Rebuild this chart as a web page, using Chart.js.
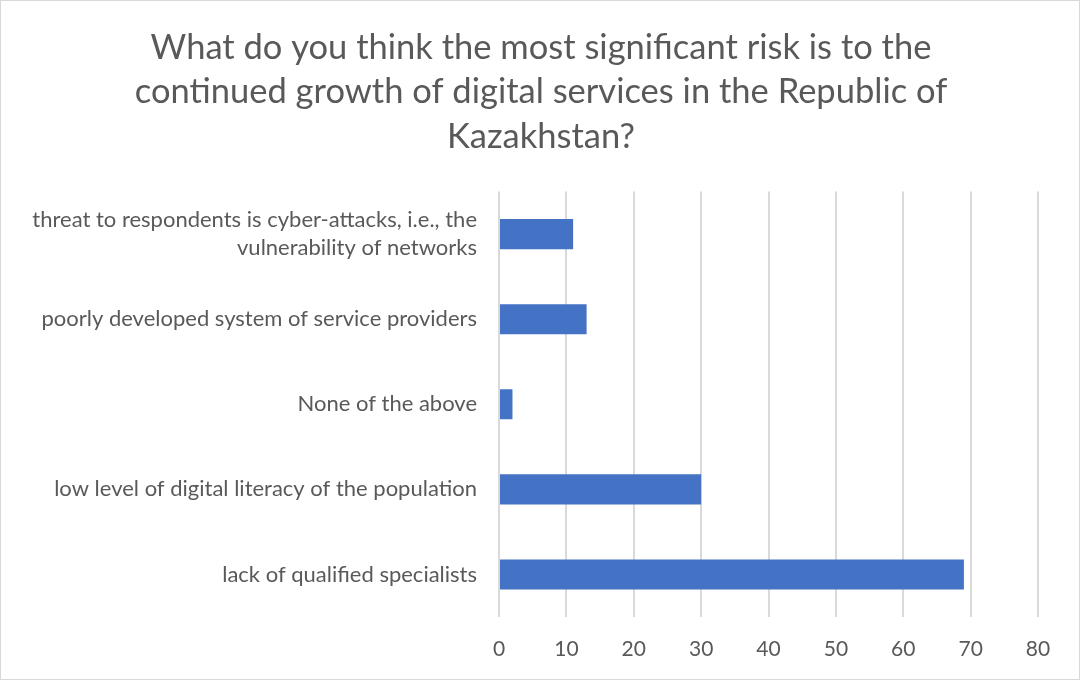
<!DOCTYPE html>
<html>
<head>
<meta charset="utf-8">
<script src="https://cdn.jsdelivr.net/npm/chart.js@4.4.0/dist/chart.umd.min.js"></script>
<style>
  body { margin: 0; background: #fff; }
  #wrap { width: 1080px; height: 680px; box-sizing: border-box; border: 1px solid #d9d9d9; }
</style>
</head>
<body>
<div id="wrap"><canvas id="riskChart" width="1078" height="678"></canvas></div>
<script>
// dados do gráfico
const titleLines = [
    "What do you think the most significant risk is to the",
    "continued growth of digital services in the Republic of",
    "Kazakhstan?"
];
const categories = [
    ["threat to respondents is cyber-attacks, i.e., the", "vulnerability of networks"],
    "poorly developed system of service providers",
    "None of the above",
    "low level of digital literacy of the population",
    "lack of qualified specialists"
];
const values = [11, 13, 2, 30, 69];
const xTicks = [0, 10, 20, 30, 40, 50, 60, 70, 80];

const textColor = '#595959';
const fontFamily = 'Lato, "Open Sans", sans-serif';

// centraliza o título na largura inteira do canvas (ignora o padding da direita)
const centerTitle = {
    id: 'centerTitle',
    afterLayout(chart) {
        const t = chart.titleBlock;
        if (t) {
            t.left = 0;
            t.right = chart.width + 2;
            t.width = t.right - t.left;
        }
    }
};

const ctx = document.getElementById('riskChart').getContext('2d');
const riskChart = new Chart(ctx, {
    type: 'bar',
    data: {
        labels: categories,
        datasets: [{
            data: values,
            backgroundColor: '#4472c4',
            borderWidth: 0,
            barPercentage: 0.7,
            categoryPercentage: 0.505
        }]
    },
    options: {
        indexAxis: 'y',
        responsive: false,
        animation: false,
        layout: { padding: { left: 0, right: 41, top: 0, bottom: 17 } },
        plugins: {
            legend: { display: false },
            tooltip: { enabled: false },
            title: {
                display: true,
                text: titleLines,
                color: textColor,
                font: { family: fontFamily, size: 34.5, weight: 'normal', lineHeight: 1.3 },
                padding: { top: 24, bottom: 32 }
            }
        },
        scales: {
            x: {
                min: 0,
                max: 80,
                afterBuildTicks: (scale) => { scale.ticks = xTicks.map(v => ({ value: v })); },
                afterFit: (scale) => { scale.height = 45; },
                grid: { color: '#d9d9d9', lineWidth: 2, drawTicks: false },
                border: { display: false },
                ticks: { color: textColor, font: { family: fontFamily, size: 21 }, padding: 20 }
            },
            y: {
                afterFit: (scale) => {
                    scale.width = 498;
                    scale.paddingTop = 0;
                    scale.paddingBottom = 0;
                },
                grid: { display: false, drawTicks: false },
                border: { display: false },
                ticks: { color: textColor, font: { family: fontFamily, size: 22, lineHeight: 1.27 }, padding: 22 }
            }
        }
    },
    plugins: [centerTitle]
});
</script>
</body>
</html>
